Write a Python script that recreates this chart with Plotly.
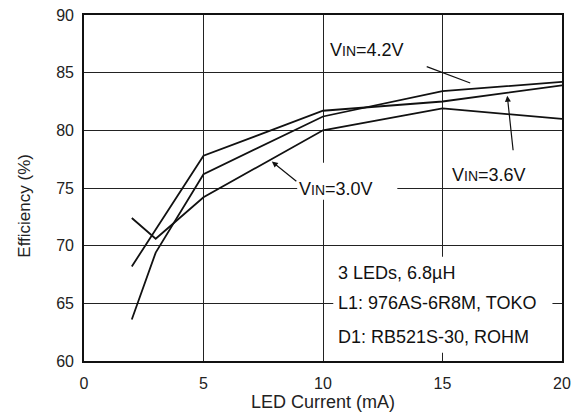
import plotly.graph_objects as go

# Data
current_30 = [2, 3, 5, 10, 15, 20]
eff_30 = [72.4, 70.6, 74.2, 80.0, 81.9, 81.0]
current_36 = [2, 5, 10, 15, 20]
eff_36 = [68.2, 77.8, 81.7, 82.5, 83.9]
current_42 = [2, 3, 5, 10, 15, 20]
eff_42 = [63.6, 69.4, 76.2, 81.2, 83.4, 84.2]

x_ticks = [0, 5, 10, 15, 20]
y_ticks = [60, 65, 70, 75, 80, 85, 90]

FONT = "Liberation Sans, Arial, sans-serif"
LINE = dict(color="#111111", width=1.8)

fig = go.Figure()
for xs, ys, name in [(current_30, eff_30, "VIN=3.0V"),
                     (current_36, eff_36, "VIN=3.6V"),
                     (current_42, eff_42, "VIN=4.2V")]:
    fig.add_trace(go.Scatter(x=xs, y=ys, mode="lines", line=LINE, name=name,
                             showlegend=False, hoverinfo="skip"))

axis_common = dict(showgrid=True, gridcolor="#222222", gridwidth=1.2,
                   showline=True, linecolor="#111111", linewidth=1.6, mirror=True,
                   zeroline=False, ticks="", tickfont=dict(family=FONT, size=16, color="#222"))

fig.update_xaxes(range=[0, 20], tickvals=x_ticks, ticklabelstandoff=7,
                 title=dict(text="LED Current (mA)", font=dict(family=FONT, size=18, color="#222"), standoff=1),
                 **axis_common)
fig.update_yaxes(range=[60, 90], tickvals=y_ticks, ticklabelstandoff=5, **axis_common)

def sub_label(v):
    return "V<span style='font-size:14px'>IN</span>=" + v

# white boxes behind labels (above gridlines, below traces)
fig.add_shape(type="rect", x0=10.43, x1=19.6, y0=60.71, y1=69.04, xref="x", yref="y",
              fillcolor="white", line=dict(width=0), layer="between")
fig.add_shape(type="rect", x0=8.92, x1=13.11, y0=73.98, y1=77.19, xref="x", yref="y",
              fillcolor="white", line=dict(width=0), layer="between")

ann = []
# VIN labels
ann.append(dict(x=10.2, y=86.93, text=sub_label("4.2V"), xanchor="left", yanchor="middle", showarrow=False))
ann.append(dict(x=15.3, y=76.15, text=sub_label("3.6V"), xanchor="left", yanchor="middle", showarrow=False))
ann.append(dict(x=8.93, y=74.9, text=sub_label("3.0V"), xanchor="left", yanchor="middle", showarrow=False))
# leader lines / arrows
ann.append(dict(x=16.16, y=84.1, text="", showarrow=True, arrowhead=0, arrowwidth=1.2,
                arrowcolor="#111", ax=-45, ay=-17, standoff=0))
ann.append(dict(x=17.71, y=83.0, text="", showarrow=True, arrowhead=2, arrowsize=1, arrowwidth=1.2,
                arrowcolor="#111", ax=6, ay=56, standoff=0))
ann.append(dict(x=7.86, y=77.3, text="", showarrow=True, arrowhead=2, arrowsize=1, arrowwidth=1.2,
                arrowcolor="#111", ax=26, ay=21, standoff=0))
# condition text
for yv, t in [(67.65, "3 LEDs, 6.8µH"), (65.05, "L1: 976AS-6R8M, TOKO"), (62.1, "D1: RB521S-30, ROHM")]:
    ann.append(dict(x=10.55, y=yv, text=t, xanchor="left", yanchor="middle", showarrow=False))
for a in ann:
    a.setdefault("xref", "x")
    a.setdefault("yref", "y")
    a["font"] = dict(family=FONT, size=18, color="#111")
# y-axis title as annotation (offset lower than centre as in reference)
ann.append(dict(xref="paper", yref="paper", x=-(84 - 25) / 477.7, y=(361.3 - 206) / 346,
                text="Efficiency (%)", textangle=-90, showarrow=False,
                xanchor="center", yanchor="middle",
                font=dict(family=FONT, size=17, color="#222")))

fig.update_layout(width=584, height=412, margin=dict(l=84, r=22, t=15, b=51, autoexpand=False),
                  paper_bgcolor="white", plot_bgcolor="white", annotations=ann,
                  font=dict(family=FONT))

fig.write_html("out.html", config={"displayModeBar": False},
               post_script="document.body.style.margin='0';")
